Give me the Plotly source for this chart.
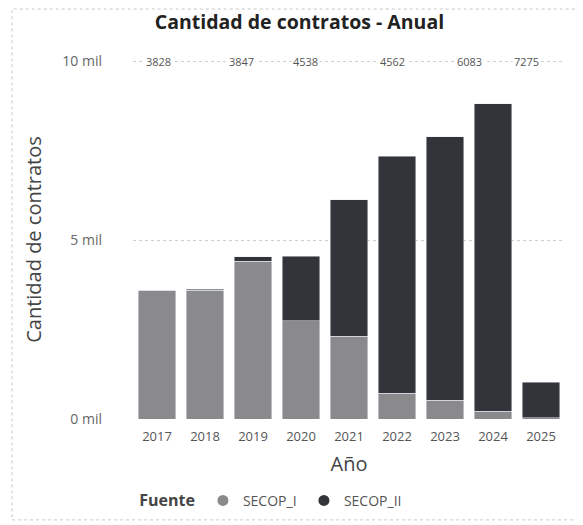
import plotly.graph_objects as go

years = ["2017", "2018", "2019", "2020", "2021", "2022", "2023", "2024", "2025"]
secop_i = [3600, 3600, 4410, 2740, 2310, 720, 530, 220, 30]
secop_ii = [0, 30, 130, 1810, 3810, 6620, 7360, 8590, 1000]
top_labels = ["3828", "3847", "4538", "4562", "6083", "7275"]
y_tick_vals = [0, 5000, 10000]
y_tick_text = ["0 mil", "5 mil", "10 mil"]

c1 = "#8a8a8c"
c2 = "#333439"
font = "Open Sans, sans-serif"

fig = go.Figure()
fig.add_trace(go.Bar(x=years, y=secop_i, name="SECOP_I", marker_color=c1, showlegend=False))
fig.add_trace(go.Bar(x=years, y=secop_ii, name="SECOP_II", marker_color=c2, showlegend=False))
fig.add_trace(go.Scatter(x=[None], y=[None], mode="markers", name="SECOP_I",
                         marker=dict(color=c1, size=11, symbol="circle")))
fig.add_trace(go.Scatter(x=[None], y=[None], mode="markers", name="SECOP_II",
                         marker=dict(color=c2, size=11, symbol="circle")))

label_pos = [0.04, 1.75, 3.1, 4.9, 6.5, 7.7]
for pos, txt in zip(label_pos, top_labels):
    fig.add_annotation(x=pos, y=10000, xref="x", yref="y", text=txt, showarrow=False,
                       font=dict(family=font, size=11, color="#555555"),
                       bgcolor="white", yanchor="middle")

fig.add_shape(type="rect", xref="paper", yref="paper", x0=-0.28, x1=1.03, y0=-0.281, y1=1.142,
              line=dict(color="#c8c8c8", width=1, dash="dot"))

fig.update_layout(
    barmode="stack",
    bargap=0.21,
    width=583, height=525,
    margin=dict(l=125, r=26, t=52, b=114, autoexpand=False),
    paper_bgcolor="white", plot_bgcolor="white",
    title=dict(text="<b>Cantidad de contratos - Anual</b>", x=0.5, xanchor="center",
               y=0.973, yanchor="middle",
               font=dict(family=font, size=19.5, color="#222222")),
    xaxis=dict(type="category", range=[-0.5, 8.5], showgrid=False, showline=False, ticks="",
               ticklabelstandoff=8,
               tickfont=dict(family=font, size=13, color="#555555"),
               title=dict(text="Año", font=dict(family=font, size=20, color="#444444"),
                          standoff=12)),
    yaxis=dict(range=[0, 10030], tickvals=y_tick_vals, ticktext=y_tick_text,
               showgrid=True, gridcolor="#cfcfcf", griddash="dot", zeroline=False,
               tickfont=dict(family=font, size=14, color="#666666"),
               ticklabelstandoff=30,
               title=dict(text="Cantidad de contratos", font=dict(family=font, size=20, color="#444444"),
                          standoff=15)),
    legend=dict(orientation="h", x=0.32, xanchor="center", y=-0.228, yanchor="middle",
                traceorder="normal", itemwidth=30,
                title=dict(text="<b>Fuente</b>", font=dict(family=font, size=16, color="#444444")),
                font=dict(family=font, size=14, color="#555555"),
                entrywidth=56, entrywidthmode="pixels"),
)

fig.write_html("out.html")
